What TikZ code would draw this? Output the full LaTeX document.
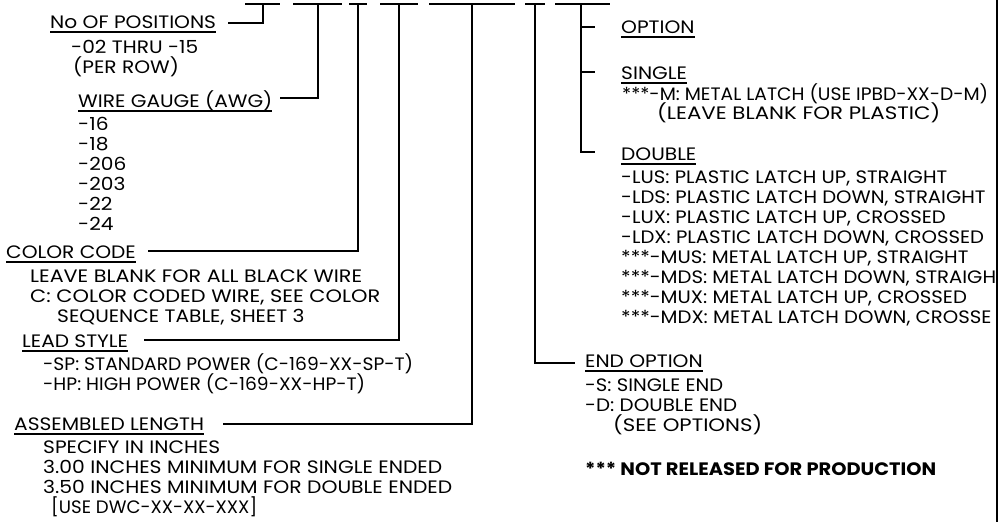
\documentclass[tikz,border=0pt]{standalone}
\usepackage{fontspec}
\setmainfont{Poppins}[FakeStretch=1.12]
\usetikzlibrary{calc}

% underlined heading
\newcommand{\hdr}[1]{\setbox0\hbox{#1}\rlap{\copy0}\rule[-4.5pt]{\wd0}{1.3pt}}
% text squeezed to a given width
\newcommand{\fw}[2]{\resizebox{#1pt}{\height}{#2}}

\begin{document}
\begin{tikzpicture}[x=1pt,y=-1pt,
  txt/.style={anchor=base west, inner sep=0pt, font=\fontsize{18}{20}\selectfont},
  lead/.style={line width=1.3pt}]

\useasboundingbox (0,0) rectangle (1003,522);

% part number dashes
\foreach \a/\b in {245/280, 293/342, 349/367, 380/418, 429/515, 525/545, 555/610}
  \draw[lead] (\a,4) -- (\b,4);

% left column
\node[txt] (nop) at (50,28) {\hdr{No OF POSITIONS}};
\node[txt] (nopa) at (71,53) {-02 THRU -15};
\node[txt] (nopb) at (73,73) {(PER ROW)};

\node[txt] (wg) at (78,107) {\hdr{WIRE GAUGE (AWG)}};
\foreach \g [count=\i] in {-16,-18,-206,-203,-22,-24}
  \node[txt] (wg\i) at (78,110+20*\i) {\g};

\node[txt] (cc) at (6,258) {\hdr{COLOR CODE}};
\node[txt] (cca) at (30,282) {\fw{332}{LEAVE BLANK FOR ALL BLACK WIRE}};
\node[txt] (ccb) at (30,302) {\fw{350}{C: COLOR CODED WIRE, SEE COLOR}};
\node[txt] (ccc) at (57,322) {SEQUENCE TABLE, SHEET 3};

\node[txt] (ls) at (22,347) {\hdr{LEAD STYLE}};
\node[txt] (lsa) at (43,370) {\fw{370}{-SP: STANDARD POWER (C-169-XX-SP-T)}};
\node[txt] (lsb) at (43,390) {\fw{322}{-HP: HIGH POWER (C-169-XX-HP-T)}};

\node[txt] (al) at (14,430) {\hdr{ASSEMBLED LENGTH}};
\node[txt] (ala) at (43,453) {SPECIFY IN INCHES};
\node[txt] (alb) at (43,473) {\fw{399}{3.00 INCHES MINIMUM FOR SINGLE ENDED}};
\node[txt] (alc) at (43,493) {\fw{409}{3.50 INCHES MINIMUM FOR DOUBLE ENDED}};
\node[txt] (ald) at (51,513) {\fw{206}{[USE DWC-XX-XX-XXX]}};

% right column
\node[txt] (opt) at (621,33) {\hdr{OPTION}};
\node[txt] (sgl) at (621,79) {\hdr{SINGLE}};
\node[txt] (sgla) at (622,100) {\fw{366}{***-M: METAL LATCH (USE IPBD-XX-D-M)}};
\node[txt] (sglb) at (657,119) {\fw{283}{(LEAVE BLANK FOR PLASTIC)}};

\node[txt] (dbl) at (621,160) {\hdr{DOUBLE}};
\begin{scope}
  \clip (0,0) rectangle (996,522);
  \foreach \t [count=\i] in {{-LUS: PLASTIC LATCH UP, STRAIGHT},
      {-LDS: PLASTIC LATCH DOWN, STRAIGHT},{-LUX: PLASTIC LATCH UP, CROSSED},
      {-LDX: PLASTIC LATCH DOWN, CROSSED},{***-MUS: METAL LATCH UP, STRAIGHT},
      {***-MDS: METAL LATCH DOWN, STRAIGH},{***-MUX: METAL LATCH UP, CROSSED},
      {***-MDX: METAL LATCH DOWN, CROSSE}}
    \node[txt] (dbl\i) at (621,163+20*\i) {\scalebox{0.975}[1]{\t}};
\end{scope}

\node[txt] (eo) at (585,367) {\hdr{END OPTION}};
\node[txt] (eoa) at (585,391) {\fw{138}{-S: SINGLE END}};
\node[txt] (eob) at (585,411) {\fw{152}{-D: DOUBLE END}};
\node[txt] (eoc) at (613,431) {\fw{149}{(SEE OPTIONS)}};
\node[txt] (nrp) at (585,475) {\fw{351}{\bfseries *** NOT RELEASED FOR PRODUCTION}};

% leaders from the dashes
\draw[lead] (263,4) |- ($(nop.base east)+(12,-5)$);
\draw[lead] (318,4) |- ($(wg.base east)+(7,-9)$);
\draw[lead] (358,4) |- ($(cc.base east)+(12,-7)$);
\draw[lead] (399,4) |- ($(ls.base east)+(16,-7)$);
\draw[lead] (472,4) |- ($(al.base east)+(19,-6)$);
\draw[lead] (535,4) |- ($(eo.base west)+(-10,-4)$);
\draw[lead] (581,4) |- ($(dbl.base west)+(-26,-8)$);
\draw[lead] (581,27) -- ($(opt.base west)+(-26,-6)$);
\draw[lead] (581,72) -- ($(sgl.base west)+(-26,-7)$);

% sheet border
\draw[line width=2pt] (997,0) -- (997,522);

\end{tikzpicture}
\end{document}
